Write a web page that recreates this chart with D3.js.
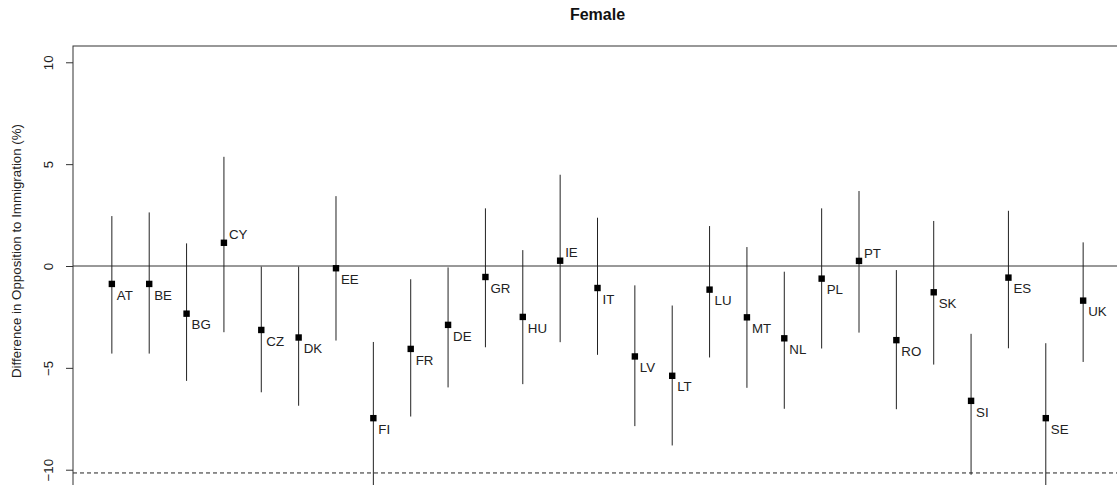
<!DOCTYPE html>
<html>
<head>
<meta charset="utf-8">
<script src="https://cdn.jsdelivr.net/npm/d3@7"></script>
<style>
  html, body { margin: 0; padding: 0; background: white; }
  svg { display: block; font-family: "Liberation Sans", Arial, sans-serif; }
</style>
</head>
<body>
<div id="chart"></div>
<script>
// country codes, in plotting order
const countries = ['AT', 'BE', 'BG', 'CY', 'CZ', 'DK', 'EE', 'FI', 'FR', 'DE', 'GR', 'HU', 'IE', 'IT',
  'LV', 'LT', 'LU', 'MT', 'NL', 'PL', 'PT', 'RO', 'SK', 'SI', 'ES', 'SE', 'UK'];
// point estimates (%)
const estimates = [-0.88, -0.88, -2.34, 1.14, -3.14, -3.51, -0.11, -7.47, -4.07, -2.89, -0.54, -2.5, 0.26, -1.08,
  -4.44, -5.39, -1.16, -2.52, -3.55, -0.62, 0.25, -3.64, -1.29, -6.62, -0.57, -7.47, -1.7];
// interval bounds
const lower = [-4.3, -4.3, -5.64, -3.25, -6.2, -6.86, -3.66, -11.2, -7.39, -5.96, -3.99, -5.8, -3.74, -4.36,
  -7.86, -8.81, -4.49, -5.98, -7.01, -4.05, -3.27, -7.03, -4.84, -10.25, -4.04, -11.2, -4.71];
const upper = [2.45, 2.63, 1.11, 5.36, -0.03, -0.03, 3.43, -3.73, -0.65, -0.07, 2.83, 0.78, 4.48, 2.37,
  -0.95, -1.94, 1.96, 0.93, -0.28, 2.83, 3.68, -0.2, 2.21, -3.33, 2.71, -3.79, 1.16];
const yTicks = [-10, -5, 0, 5, 10];
const refLines = [0];
const threshold = -10.16;

const width = 1117;
const height = 485;

const data = countries.map((c, i) => ({ i: i + 1, code: c, est: estimates[i], lo: lower[i], hi: upper[i] }));

// R style 4% padding on both axes
const x = d3.scaleLinear().domain([1 - 1.04, 27 + 1.04]).range([73, 1122]);
const y = d3.scaleLinear().domain([-10.8, 10.8]).range([486, 46]);

const svg = d3.select('#chart').append('svg')
  .attr('width', width)
  .attr('height', height)
  .attr('viewBox', [0, 0, width, height])
  .style('background', 'white');

svg.append('defs').append('clipPath')
  .attr('id', 'plot-clip')
  .append('rect')
  .attr('x', 73).attr('y', 46)
  .attr('width', 1122 - 73).attr('height', 486 - 46);

// title
svg.append('text')
  .attr('x', (73 + 1122) / 2)
  .attr('y', 20)
  .attr('text-anchor', 'middle')
  .attr('font-weight', 'bold')
  .attr('font-size', 16)
  .attr('fill', '#111')
  .text('Female');

// y axis
const yAxis = svg.append('g')
  .attr('transform', 'translate(73,0)')
  .call(d3.axisLeft(y).tickValues(yTicks).tickSize(7).tickFormat(d3.format('d')));
yAxis.select('.domain').remove();
yAxis.selectAll('line').attr('stroke', '#333');
yAxis.selectAll('text')
  .attr('font-family', '"Liberation Sans", Arial, sans-serif')
  .attr('font-size', 13.3)
  .attr('fill', '#222')
  .attr('x', null).attr('dy', null)
  .attr('text-anchor', 'middle')
  .attr('transform', 'translate(-20,0) rotate(-90)');

svg.append('text')
  .attr('transform', 'translate(21,251) rotate(-90)')
  .attr('text-anchor', 'middle')
  .attr('font-size', 13.3)
  .attr('fill', '#222')
  .text('Difference in Opposition to Immigration (%)');

const plot = svg.append('g').attr('clip-path', 'url(#plot-clip)');

// reference lines
plot.selectAll('line.ref')
  .data(refLines)
  .join('line')
  .attr('class', 'ref')
  .attr('x1', 73).attr('x2', 1122)
  .attr('y1', (d) => y(d)).attr('y2', (d) => y(d))
  .attr('stroke', '#333');

plot.append('line')
  .attr('x1', 73).attr('x2', 1122)
  .attr('y1', y(threshold)).attr('y2', y(threshold))
  .attr('stroke', '#222')
  .attr('stroke-dasharray', '4,3');

// intervals
plot.selectAll('line.ci')
  .data(data)
  .join('line')
  .attr('class', 'ci')
  .attr('x1', (d) => x(d.i)).attr('x2', (d) => x(d.i))
  .attr('y1', (d) => y(d.lo)).attr('y2', (d) => y(d.hi))
  .attr('stroke', '#222');

// points
plot.selectAll('rect.pt')
  .data(data)
  .join('rect')
  .attr('class', 'pt')
  .attr('x', (d) => x(d.i) - 3.2)
  .attr('y', (d) => y(d.est) - 3.2)
  .attr('width', 6.4)
  .attr('height', 6.4)
  .attr('fill', 'black');

// labels
plot.selectAll('text.lab')
  .data(data)
  .join('text')
  .attr('class', 'lab')
  .attr('x', (d) => x(d.i) + 5)
  .attr('y', (d) => y(d.est) + (d.est > 0 ? -8 : 11))
  .attr('dy', '0.35em')
  .attr('font-size', 13.3)
  .attr('fill', '#222')
  .text((d) => d.code);

// plot frame
svg.append('rect')
  .attr('x', 73).attr('y', 46)
  .attr('width', 1122 - 73).attr('height', 486 - 46)
  .attr('fill', 'none')
  .attr('stroke', '#333');
</script>
</body>
</html>
